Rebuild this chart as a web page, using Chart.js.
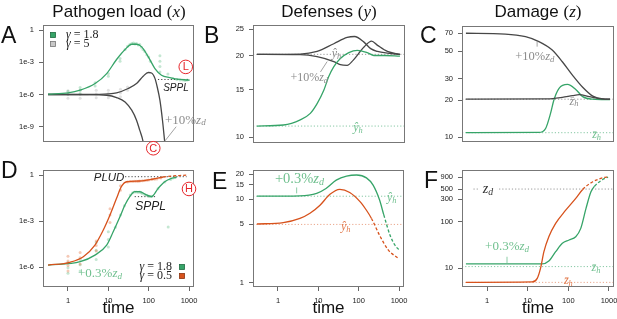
<!DOCTYPE html>
<html>
<head>
<meta charset="utf-8">
<script src="https://cdn.jsdelivr.net/npm/chart.js@4.4.1/dist/chart.umd.min.js"></script>
<style>
body { margin: 0; background: #fff; width: 617px; height: 319px; position: relative; overflow: hidden; }
canvas { position: absolute; }
.lbl { position: absolute; white-space: nowrap; line-height: 0; color: #111; font-family: 'Liberation Sans', Arial, sans-serif; }
</style>
</head>
<body>
<script>
// shared time axis
var timeMin = 0.24, timeMax = 1330;
var timeTicks = [1, 10, 100, 1000];
var timeLabels = ['1', '10', '100', '1000'];

// A - pathogen load (log10 values)
var tA_green = [0.32, 1, 2, 4.7, 9.1, 16, 26, 38, 50, 67, 98, 143, 208, 335, 600, 1040];
var lA_green = [-5.97, -5.85, -5.6, -4.98, -4.05, -2.74, -1.81, -1.32, -1.32, -1.57, -2.5, -3.58, -4.2, -4.42, -4.6, -4.67];
var tA_dark1 = [0.32, 3, 10, 16, 31, 50, 73, 98, 118, 143, 163, 190, 220, 250, 280];
var lA_dark1 = [-6, -6, -5.95, -5.85, -5.44, -4.98, -4.3, -3.95, -4.0, -4.5, -5.3, -6.53, -8.4, -10.4, -12];
var tA_dark2 = [0.32, 3, 9.1, 16, 26, 38, 50, 60, 73, 85];
var lA_dark2 = [-6, -6.01, -6.07, -6.28, -6.69, -7.46, -8.39, -9.32, -10.4, -12];
var ptA_green_t = [1, 1, 2, 2, 2, 4.7, 4.7, 10, 10, 19.5, 19.5, 26, 30, 34, 38, 42, 46, 50, 55, 60, 66, 72, 80, 90, 100, 110, 190, 190, 190, 190, 300, 400, 500, 600, 700, 800, 900];
var ptA_green_l = [-5.7, -5.95, -5.35, -5.6, -5.9, -4.9, -5.2, -4.05, -4.3, -2.65, -2.9, -1.8, -1.5, -1.35, -1.25, -1.2, -1.3, -1.25, -1.4, -1.35, -1.6, -1.8, -2.0, -2.3, -2.5, -2.9, -2.4, -2.9, -3.4, -3.9, -4.1, -4.5, -4.6, -4.65, -4.65, -4.7, -4.65];
var ptA_gray_t = [1, 1, 1, 2, 2, 2, 5, 5, 5, 10, 10, 10, 20, 20, 20, 30, 30];
var ptA_gray_l = [-5.65, -6.0, -6.35, -5.6, -6.0, -6.35, -5.6, -5.95, -6.3, -5.6, -5.9, -6.3, -5.5, -5.85, -6.2, -5.3, -5.6];
var yTicksA = [1, 1e-3, 1e-6, 1e-9];
var yLabelsA = ['1', '1e-3', '1e-6', '1e-9'];

// B - defenses
var tB_green = [0.3, 1.35, 3.5, 6.2, 9.1, 13.3, 17.5, 23.5, 34, 55, 89, 156, 228, 410, 1000];
var vB_green = [11.0, 11.1, 11.6, 12.25, 13.3, 14.9, 16.7, 18.2, 19.5, 20.5, 20.9, 20.5, 20.0, 20.0, 19.9];
var tB_dark1 = [0.3, 3.5, 9.1, 23.5, 50, 76, 130, 190, 280, 490, 1000];
var vB_dark1 = [20.2, 20.25, 20.7, 22.1, 23.3, 23.5, 22.4, 21.2, 20.7, 20.4, 20.2];
var tB_dark2 = [0.3, 3.5, 9.1, 23.5, 34, 50, 70, 130, 200, 280, 490, 1000];
var vB_dark2 = [20.2, 20.15, 19.8, 19.0, 18.5, 18.4, 19.2, 21.5, 22.6, 21.8, 20.7, 20.2];
var yTicksB = [10, 15, 20, 25];

// C - damage
var tC_dark1 = [0.3, 2.8, 8.8, 18.8, 40, 71, 126, 225, 400, 710, 1060];
var vC_dark1 = [70, 69, 65.6, 59.9, 51.2, 41.1, 32, 25.5, 21.6, 20.5, 20.4];
var tC_dark2 = [0.3, 30, 71, 126, 185, 327, 577, 1060];
var vC_dark2 = [20.4, 20.5, 21.1, 21.8, 22.2, 21.4, 20.6, 20.4];
var tC_green = [0.3, 18.8, 27.5, 36.5, 44, 59, 95, 152, 225, 400, 1060];
var vC_green = [10.9, 10.95, 11.8, 15.7, 20.1, 25, 26.9, 24.5, 21.4, 20.4, 20.2];
var yTicksC = [10, 20, 30, 50, 70];

// D - pathogen load, second scenario (log10 values)
var tD_orange = [0.32, 1.12, 2.4, 4.66, 7.5, 11, 16, 21, 28.5, 60, 130, 230, 900];
var lD_orange = [-5.87, -5.69, -5.33, -4.57, -3.59, -2.61, -1.52, -0.76, -0.44, -0.39, -0.26, -0.13, 0.0];
var tD_green = [0.32, 2, 4.66, 9.1, 13.2, 19.4, 25.8, 34, 45.5, 60, 88, 118, 172, 250, 366, 490];
var lD_green = [-5.87, -5.65, -5.22, -4.57, -3.7, -2.72, -1.96, -1.41, -1.09, -1.09, -1.3, -1.41, -0.87, -0.44, -0.22, -0.15];
var ptD_orange_t = [1, 1, 1, 1, 2, 2, 2, 5, 5, 5, 11, 11, 11, 20, 20, 30, 35, 40, 45, 50, 55, 60, 70, 80, 90, 100, 120, 140, 160, 200];
var ptD_orange_l = [-5.3, -5.6, -5.9, -6.25, -5.05, -5.4, -5.8, -4.3, -4.6, -4.95, -2.2, -2.6, -3.1, -0.7, -1.0, -0.45, -0.42, -0.43, -0.4, -0.41, -0.4, -0.39, -0.38, -0.36, -0.35, -0.33, -0.3, -0.28, -0.26, -0.2];
var ptD_green_t = [1, 1, 1, 2, 2, 2, 5, 5, 5, 10, 10, 10, 15, 20, 25, 35, 40, 45, 50, 55, 60, 65, 70, 80, 90, 100, 110, 120, 170, 250, 305, 350, 400, 450];
var ptD_green_l = [-5.7, -6.05, -6.4, -5.5, -5.85, -6.25, -4.4, -4.9, -5.5, -3.7, -4.2, -4.7, -3.4, -2.6, -2.0, -1.3, -1.15, -1.1, -1.1, -1.12, -1.1, -1.15, -1.2, -1.28, -1.32, -1.38, -1.4, -1.38, -0.9, -0.45, -3.39, -0.3, -0.2, -0.15];
var yTicksD = [1, 1e-3, 1e-6];
var yLabelsD = ['1', '1e-3', '1e-6'];

// E - defenses, second scenario
var tE_green = [0.3, 3.5, 9.1, 15.5, 27.8, 50, 89, 156, 228, 330, 420, 600, 790, 1000];
var vE_green = [10.9, 11.0, 11.8, 13.5, 17, 19, 19.6, 18.1, 14.8, 9.8, 6.5, 3.7, 2.83, 2.47];
var tE_orange = [0.3, 1.35, 3.5, 6.2, 11, 19.4, 34, 60, 108, 156, 208, 330, 540, 960];
var vE_orange = [5.06, 5.25, 5.9, 6.8, 8.5, 11.5, 13.2, 12.1, 9.4, 7.4, 5.9, 3.7, 2.47, 1.96];
var yTicksE = [1, 5, 10, 15, 20];

// F - damage, second scenario
var tF_orange = [0.3, 12.8, 17.1, 20.6, 25, 33, 48.6, 86, 152, 225, 400, 710, 950];
var vF_orange = [5.0, 5.1, 6.1, 10, 22.7, 47.6, 92, 176, 316, 490, 716, 871, 910];
var tF_green = [0.3, 22.6, 33, 48.6, 71, 104, 152, 202, 272, 360, 440, 700, 950];
var vF_green = [12.4, 12.4, 14.3, 22.7, 34.3, 40.4, 47.6, 71.8, 193, 437, 575, 800, 900];
var yTicksF = [10, 100, 300, 500, 900];

var GREEN = '#36a468', ORANGE = '#d7521c', DARK = '#474747', RED = '#e6262b';
var LBL_GREEN = '#70c08f', LBL_GRAY = '#8c8c8c', LBL_ORANGE = '#e27b4e';
var SANS = "'Liberation Sans', Arial, sans-serif";
var SERIF = "'Liberation Serif', 'DejaVu Serif', serif";

function pairs(ts, vs, logged) {
  return ts.map(function (t, i) { return { x: t, y: logged ? Math.pow(10, vs[i]) : vs[i] }; });
}
function line(data, color, dashFrom) {
  return {
    data: data, borderColor: color, borderWidth: 1.3, pointRadius: 0, order: 1,
    cubicInterpolationMode: 'monotone', fill: false,
    segment: { borderDash: function (c) { return dashFrom != null && c.p0DataIndex >= dashFrom ? [3, 2] : undefined; } }
  };
}
function level(t0, t1, v, color) {
  return { data: [{ x: t0, y: v }, { x: t1, y: v }], borderColor: color, borderWidth: 1, borderDash: [1.2, 2], pointRadius: 0, order: 3 };
}
function dots(data, color) {
  return { data: data, showLine: false, pointRadius: 1.5, pointBorderWidth: 0, pointBackgroundColor: color, order: 2 };
}

function drawMath(ctx, x, y, parts, size, color, align) {
  function fontOf(p) {
    if (p[1] === 'r') return size + 'px ' + SERIF;
    if (p[1] === 'i') return 'italic ' + size + 'px ' + SERIF;
    if (p[1] === 's') return 'italic ' + (size * 0.7) + 'px ' + SERIF;
    return 'italic ' + size + 'px ' + SANS;
  }
  var w = 0, widths = [];
  parts.forEach(function (p) { ctx.font = fontOf(p); var m = ctx.measureText(p[0]).width; widths.push(m); w += m; });
  var cx = align === 'left' ? x : align === 'right' ? x - w : x - w / 2;
  ctx.fillStyle = color;
  ctx.textBaseline = 'middle';
  ctx.textAlign = 'left';
  parts.forEach(function (p, i) {
    ctx.font = fontOf(p);
    ctx.fillText(p[0], cx, p[1] === 's' ? y + size * 0.22 : y);
    cx += widths[i];
  });
  return w;
}

var notesPlugin = {
  id: 'notes',
  afterDraw: function (chart, args, opts) {
    var ctx = chart.ctx, a = chart.chartArea, sx = chart.scales.x, sy = chart.scales.y;
    ctx.save();
    ctx.strokeStyle = '#777';
    ctx.lineWidth = 1;
    ctx.strokeRect(a.left + 0.5, a.top + 0.5, a.right - a.left - 1, a.bottom - a.top - 1);
    (opts.items || []).forEach(function (n) {
      if (n.kind === 'lead') {
        ctx.strokeStyle = n.color; ctx.lineWidth = 0.8;
        ctx.beginPath();
        ctx.moveTo(sx.getPixelForValue(n.t0), sy.getPixelForValue(n.v0));
        ctx.lineTo(sx.getPixelForValue(n.t1), sy.getPixelForValue(n.v1));
        ctx.stroke();
      } else if (n.kind === 'circle') {
        var px = sx.getPixelForValue(n.t), py = sy.getPixelForValue(n.v);
        ctx.fillStyle = '#fff'; ctx.strokeStyle = RED; ctx.lineWidth = 1;
        ctx.beginPath(); ctx.arc(px, py, 6.8, 0, Math.PI * 2); ctx.fill(); ctx.stroke();
        ctx.fillStyle = RED; ctx.font = '11px ' + SANS; ctx.textAlign = 'center'; ctx.textBaseline = 'middle';
        ctx.fillText(n.text, px, py + 0.5);
      } else if (n.kind === 'text') {
        var tx = sx.getPixelForValue(n.t), ty = sy.getPixelForValue(n.v);
        if (n.bg) {
          ctx.font = 'italic ' + n.size + 'px ' + SERIF;
          var bw = ctx.measureText('zd').width + 2;
          ctx.fillStyle = '#fff';
          ctx.fillRect(tx - bw / 2 - 2, ty - n.size / 2, bw + 4, n.size);
        }
        drawMath(ctx, tx, ty, n.parts, n.size, n.color, n.align || 'center');
      } else if (n.kind === 'key') {
        var kx = n.side === 'right' ? a.right + n.dx : a.left + n.dx;
        var ky = n.side === 'right' ? a.bottom + n.dy : a.top + n.dy;
        ctx.fillStyle = n.color; ctx.strokeStyle = n.edge; ctx.lineWidth = 0.8;
        ctx.fillRect(kx - 2.5, ky - 2.5, 5, 5);
        ctx.strokeRect(kx - 2.5, ky - 2.5, 5, 5);
        if (n.side === 'right') drawMath(ctx, kx - 10, ky, n.parts, 12, '#222', 'right');
        else drawMath(ctx, kx + 13, ky, n.parts, 12, '#222', 'left');
      }
    });
    ctx.restore();
  }
};

function panel(frame, yMin, yMax, yTicks, yLabels, bottomRow, datasets, items, padR) {
  var padL = 40, padT = 12;
  padR = padR || 12;
  var padB = bottomRow ? 319 - frame.b : 14;
  var cv = document.createElement('canvas');
  cv.width = frame.r - frame.l + padL + padR;
  cv.height = frame.b - frame.t + padT + padB;
  cv.style.left = (frame.l - padL) + 'px';
  cv.style.top = (frame.t - padT) + 'px';
  document.body.appendChild(cv);
  var tickFont = { family: SANS, size: 7.5 };
  return new Chart(cv, {
    type: 'line',
    data: { datasets: datasets },
    options: {
      animation: false,
      responsive: false,
      devicePixelRatio: 1,
      layout: { padding: { left: 0, top: padT, right: padR, bottom: bottomRow ? 0 : padB } },
      plugins: { legend: { display: false }, tooltip: { enabled: false }, notes: { items: items } },
      scales: {
        x: {
          type: 'logarithmic', min: timeMin, max: timeMax, display: bottomRow,
          afterBuildTicks: function (ax) { ax.ticks = timeTicks.map(function (v) { return { value: v }; }); },
          afterFit: function (ax) { ax.height = bottomRow ? padB : 0; },
          grid: { drawOnChartArea: false, drawTicks: true, tickLength: 4, tickColor: '#666' },
          border: { display: false },
          ticks: { autoSkip: false, maxRotation: 0, padding: 5, color: '#222', font: tickFont,
            callback: function (v, i) { return timeLabels[i]; } },
          title: { display: true, text: 'time', color: '#111', font: { family: SANS, size: 17 }, padding: { top: 0, bottom: 0 } }
        },
        y: {
          type: 'logarithmic', min: yMin, max: yMax,
          afterBuildTicks: function (ax) { ax.ticks = yTicks.map(function (v) { return { value: v }; }); },
          afterFit: function (ax) { ax.width = padL; },
          grid: { drawOnChartArea: false, drawTicks: true, tickLength: 4, tickColor: '#666' },
          border: { display: false },
          ticks: { autoSkip: false, padding: 5, color: '#222', font: tickFont,
            callback: function (v, i) { return yLabels[i]; } }
        }
      }
    },
    plugins: [notesPlugin]
  });
}

function txt(t, v, parts, size, color, align) { return { kind: 'text', t: t, v: v, parts: parts, size: size, color: color, align: align }; }
var P10 = [['+10%', 'r'], ['z', 'i'], ['d', 's']];
var P03 = [['+0.3%', 'r'], ['z', 'i'], ['d', 's']];
var YH = [['\u0177', 'i'], ['h', 's']];
var ZH = [['z\u0304', 'i'], ['h', 's']];
function E(v) { return Math.pow(10, v); }

// A
panel({ l: 43, t: 25, r: 194, b: 142 }, E(-10.42), E(0.47), yTicksA, yLabelsA, false, [
  line(pairs(tA_green, lA_green, true), GREEN),
  line(pairs(tA_dark1, lA_dark1, true), DARK),
  line(pairs(tA_dark2, lA_dark2, true), DARK),
  dots(pairs(ptA_green_t, ptA_green_l, true), 'rgba(70,180,115,0.32)'),
  dots(pairs(ptA_gray_t, ptA_gray_l, true), 'rgba(165,165,165,0.32)'),
  level(170, 1000, E(-4.6), DARK)
], [
  { kind: 'key', side: 'left', dx: 10, dy: 10, color: GREEN, edge: '#1f6b40', parts: [['\u03b3', 'i'], [' = 1.8', 'r']] },
  { kind: 'key', side: 'left', dx: 10, dy: 19, color: '#c8c8c8', edge: '#777', parts: [['\u03b3', 'i'], [' = 5', 'r']] },
  txt(475, E(-5.41), [['SPPL', 'si']], 10, '#222'),
  { kind: 'circle', t: 830, v: E(-3.43), text: 'L' },
  { kind: 'circle', t: 130, v: E(-11.0), text: 'C' },
  { kind: 'lead', t0: 480, v0: E(-9.0), t1: 256, v1: E(-10.3), color: LBL_GRAY },
  txt(253, E(-8.39), P10, 13, LBL_GRAY, 'left')
], 26);

// B
panel({ l: 253, t: 25, r: 405, b: 143 }, 9.53, 25.9, yTicksB, yTicksB.map(String), false, [
  line(pairs(tB_green, vB_green), GREEN),
  line(pairs(tB_dark1, vB_dark1), DARK),
  line(pairs(tB_dark2, vB_dark2), DARK),
  level(timeMin, timeMax, 20.2, '#999'),
  level(timeMin, timeMax, 11.0, 'rgba(54,164,104,0.6)')
], [
  txt(27.4, 20.2, YH, 12, LBL_GRAY),
  txt(92, 10.8, YH, 12, LBL_GREEN),
  { kind: 'lead', t0: 11, v0: 17.4, t1: 16.1, v1: 19.0, color: LBL_GRAY },
  txt(2, 16.5, P10, 12, LBL_GRAY, 'left')
]);

// C
panel({ l: 462, t: 26, r: 614, b: 142 }, 9.16, 80.2, yTicksC, yTicksC.map(String), false, [
  line(pairs(tC_dark1, vC_dark1), DARK),
  line(pairs(tC_dark2, vC_dark2), DARK),
  line(pairs(tC_green, vC_green), GREEN),
  level(timeMin, timeMax, 20.4, '#999'),
  level(timeMin, timeMax, 10.9, 'rgba(54,164,104,0.6)')
], [
  { kind: 'lead', t0: 17, v0: 59.9, t1: 17, v1: 54.5, color: LBL_GRAY },
  txt(4.9, 45.2, P10, 12.5, LBL_GRAY, 'left'),
  txt(138, 19.5, ZH, 12, LBL_GRAY),
  txt(495, 10.4, ZH, 12, LBL_GREEN)
]);

// D
panel({ l: 43, t: 170, r: 194, b: 287 }, E(-7.3), E(0.326), yTicksD, yLabelsD, true, [
  line(pairs(tD_orange, lD_orange, true), ORANGE, 11),
  line(pairs(tD_green, lD_green, true), GREEN),
  dots(pairs(ptD_orange_t, ptD_orange_l, true), 'rgba(225,100,45,0.35)'),
  dots(pairs(ptD_green_t, ptD_green_l, true), 'rgba(70,180,115,0.32)'),
  level(26, 870, E(-0.11), DARK),
  level(45, 150, E(-1.41), DARK)
], [
  txt(25, E(-0.18), [['PLUD', 'si']], 11.5, '#222', 'right'),
  txt(111, E(-2.07), [['SPPL', 'si']], 12, '#222'),
  { kind: 'circle', t: 1000, v: E(-0.91), text: 'H' },
  txt(1.77, E(-6.41), P03, 13, LBL_GREEN, 'left'),
  { kind: 'key', side: 'right', dx: -12, dy: -20, color: GREEN, edge: '#1f6b40', parts: [['\u03b3', 'i'], [' = 1.8', 'r']] },
  { kind: 'key', side: 'right', dx: -12, dy: -11, color: ORANGE, edge: '#8a3410', parts: [['\u03b3', 'i'], [' = 0.5', 'r']] }
]);

// E
panel({ l: 253, t: 170, r: 404, b: 287 }, 0.887, 22.5, yTicksE, yTicksE.map(String), true, [
  line(pairs(tE_green, vE_green), GREEN, 10),
  line(pairs(tE_orange, vE_orange), ORANGE, 10),
  level(timeMin, timeMax, 10.9, 'rgba(54,164,104,0.6)'),
  level(timeMin, timeMax, 5.0, 'rgba(215,82,28,0.5)')
], [
  txt(0.84, 17.5, P03, 14.5, LBL_GREEN, 'left'),
  { kind: 'lead', t0: 2.9, v0: 13.9, t1: 2.9, v1: 11.8, color: LBL_GREEN },
  txt(660, 10.3, YH, 12, LBL_GREEN),
  txt(47.6, 4.7, YH, 12, LBL_ORANGE)
]);

// F
panel({ l: 462, t: 170, r: 614, b: 287 }, 3.98, 1280, yTicksF, yTicksF.map(String), true, [
  line(pairs(tF_orange, vF_orange), ORANGE, 9),
  line(pairs(tF_green, vF_green), GREEN, 10),
  level(0.46, 1240, 500, '#999'),
  level(timeMin, timeMax, 10.9, 'rgba(54,164,104,0.6)'),
  level(timeMin, timeMax, 5.0, 'rgba(215,82,28,0.5)')
], [
  { kind: 'text', t: 1.04, v: 500, parts: [['z', 'i'], ['d', 's']], size: 14, color: '#333', bg: true },
  txt(0.89, 29, P03, 13, LBL_GREEN, 'left'),
  { kind: 'lead', t0: 3.08, v0: 17.7, t1: 3.08, v1: 12.8, color: LBL_GREEN },
  txt(478, 10, ZH, 12, LBL_GREEN),
  txt(100, 5.35, ZH, 12, LBL_ORANGE)
]);

// column titles and panel letters
function label(html, x, baseline, size, align) {
  var d = document.createElement('div');
  d.className = 'lbl';
  d.innerHTML = html;
  d.style.fontSize = size + 'px';
  d.style.top = (baseline - 0.3465 * size) + 'px';
  if (align === 'center') { d.style.left = x + 'px'; d.style.transform = 'translateX(-50%)'; }
  else d.style.left = x + 'px';
  document.body.appendChild(d);
}
function mathVar(v) {
  return '<span style="font-family:' + SERIF.replace(/'/g, '&quot;') + '">(<i>' + v + '</i>)</span>';
}
label('Pathogen load ' + mathVar('x'), 119, 18, 17, 'center');
label('Defenses ' + mathVar('y'), 329, 18, 17, 'center');
label('Damage ' + mathVar('z'), 538, 18, 17, 'center');
var letters = [['A', 1, 43], ['B', 204, 43], ['C', 420, 43], ['D', 1, 178], ['E', 212, 189], ['F', 424, 188]];
letters.forEach(function (l) { label(l[0], l[1], l[2], 23, 'left'); });
</script>
</body>
</html>
